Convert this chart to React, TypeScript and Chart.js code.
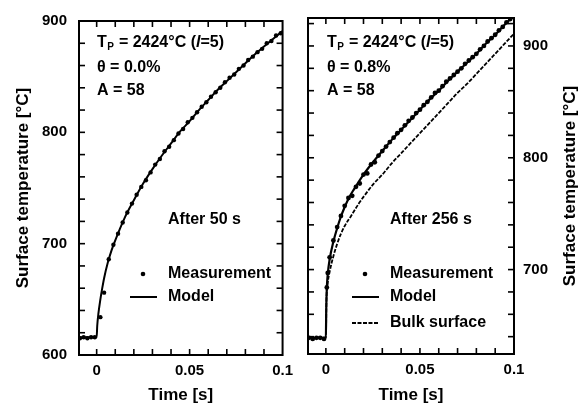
import React, { useEffect, useRef } from "react";
import { Chart, registerables } from "chart.js";

Chart.register(...registerables);

const FONT = '"Liberation Sans", Arial, Helvetica, sans-serif';

// ---- Left panel: after 50 s (theta = 0.0 %) ----
const leftModelTime = [-0.01, 0, 0.0003, 0.001, 0.002, 0.003, 0.004, 0.006, 0.008, 0.01, 0.015, 0.02, 0.025, 0.03, 0.035, 0.04, 0.045, 0.05, 0.055, 0.06, 0.065, 0.07, 0.075, 0.08, 0.085, 0.09, 0.095, 0.1];
const leftModelTemp = [616, 616, 626, 638, 650, 660, 669, 683, 694, 703, 723, 739, 754, 767, 779, 790, 801, 810, 820, 829, 838, 846, 854, 862, 870, 877, 884, 891];

const leftMeasTime = [-0.009, -0.007, -0.005, -0.003, -0.001, 0.002, 0.004, 0.0065, 0.009, 0.0115, 0.014, 0.0165, 0.019, 0.0215, 0.024, 0.0265, 0.029, 0.0315, 0.034, 0.0365, 0.039, 0.0415, 0.044, 0.0465, 0.049, 0.0515, 0.054, 0.0565, 0.059, 0.0615, 0.064, 0.0665, 0.069, 0.0715, 0.074, 0.0765, 0.079, 0.0815, 0.084, 0.0865, 0.089, 0.0915, 0.094, 0.0965, 0.099];
const leftMeasTemp = [615, 616, 615, 616, 616, 634, 656, 686, 699, 709, 719, 728, 736, 744, 751, 757, 764, 771, 776, 783, 787, 793, 799, 803, 809, 813, 818, 823, 827, 832, 836, 840, 845, 849, 852, 857, 860, 865, 868, 872, 875, 880, 882, 887, 889];

// ---- Right panel: after 256 s (theta = 0.8 %) ----
const rightModelTime = [-0.01, 0, 0.0002, 0.0005, 0.001, 0.002, 0.004, 0.006, 0.0075, 0.01, 0.0125, 0.015, 0.02, 0.025, 0.03, 0.035, 0.04, 0.045, 0.05, 0.055, 0.06, 0.065, 0.07, 0.075, 0.08, 0.085, 0.09, 0.095, 0.1];
const rightModelTemp = [639, 639, 665, 683, 696, 709, 725, 737, 745, 756, 765, 772, 785, 796, 806, 816, 825, 834, 843, 852, 860, 869, 877, 885, 893, 902, 910, 919, 927];

const rightBulkTime = [-0.01, 0, 0.0003, 0.001, 0.002, 0.004, 0.006, 0.008, 0.01, 0.0134, 0.0175, 0.02, 0.025, 0.03, 0.035, 0.04, 0.045, 0.05, 0.055, 0.06, 0.065, 0.07, 0.075, 0.08, 0.085, 0.09, 0.095, 0.1];
const rightBulkTemp = [639, 639, 672, 688, 698, 712, 723, 732, 739, 748, 759, 765, 776, 785, 795, 804, 813, 822, 831, 840, 849, 858, 866, 875, 884, 893, 902, 911];

const rightMeasTime = [-0.009, -0.007, -0.005, -0.003, -0.001, 0.0005, 0.001, 0.002, 0.004, 0.006, 0.008, 0.01, 0.012, 0.014, 0.016, 0.018, 0.02, 0.022, 0.024, 0.026, 0.028, 0.03, 0.032, 0.034, 0.036, 0.038, 0.04, 0.042, 0.044, 0.046, 0.048, 0.05, 0.052, 0.054, 0.056, 0.058, 0.06, 0.062, 0.064, 0.066, 0.068, 0.07, 0.072, 0.074, 0.076, 0.078, 0.08, 0.082, 0.084, 0.086, 0.088, 0.09, 0.092, 0.094, 0.096, 0.098, 0.1];
const rightMeasTemp = [639, 638, 639, 639, 638, 684, 697, 711, 726, 738, 748, 757, 764, 766, 774, 777, 785, 786, 794, 796, 802, 806, 810, 814, 818, 822, 825, 829, 833, 836, 840, 843, 847, 850, 854, 858, 860, 864, 868, 871, 874, 877, 880, 884, 887, 890, 893, 897, 900, 904, 907, 910, 914, 917, 921, 924, 927];

// ---- Axes ----
const timeRange = [-0.0095, 0.1];
const leftTempRange = [600, 900];
const rightTempRange = [624.5, 925];
const timeTickValues = [0, 0.05, 0.1];
const timeTickLabels = ["0", "0.05", "0.1"];
const leftTempTicks = [600, 700, 800, 900];
const rightTempTicks = [700, 800, 900];
const timeMinorTicks = [0, 0.01, 0.02, 0.03, 0.04, 0.05, 0.06, 0.07, 0.08, 0.09, 0.1];
const leftTempMinor = [620, 640, 660, 680, 700, 720, 740, 760, 780, 800, 820, 840, 860, 880];
const rightTempMinor = [640, 660, 680, 700, 720, 740, 760, 780, 800, 820, 840, 860, 880, 900, 920];

const TEMP_TITLE = "Surface temperature [°C]";

const pts = (xs: number[], ys: number[]) => xs.map((x, i) => ({ x, y: ys[i] }));

type PanelSpec = {
  side: "left" | "right";
  tempRange: number[];
  tempTicks: number[];
  tempMinor: number[];
  theta: string;
  after: string;
  datasets: any[];
  legend: { kind: "dot" | "solid" | "dash"; label: string }[];
  textX: number;
  afterX: number;
  legendX: number;
};

const drawInfoText = (ctx: CanvasRenderingContext2D, x: number, theta: string) => {
  const big = `bold 16px ${FONT}`;
  ctx.fillStyle = "#000";
  ctx.textBaseline = "middle";
  ctx.textAlign = "left";
  let cx = x;
  const y = 43;
  ctx.font = big;
  ctx.fillText("T", cx, y);
  cx += ctx.measureText("T").width;
  ctx.font = `bold 10px ${FONT}`;
  ctx.fillText("P", cx + 0.5, y + 4);
  cx += ctx.measureText("P").width + 1;
  ctx.font = big;
  const mid = " = 2424°C (";
  ctx.fillText(mid, cx, y);
  cx += ctx.measureText(mid).width;
  ctx.font = `italic bold 16px ${FONT}`;
  ctx.fillText("l", cx, y);
  cx += ctx.measureText("l").width;
  ctx.font = big;
  ctx.fillText("=5)", cx, y);
  ctx.fillText(`θ = ${theta}`, x, 68);
  ctx.fillText("A = 58", x, 91);
};

function Panel({ spec, width, left }: { spec: PanelSpec; width: number; left: number }) {
  const ref = useRef<HTMLCanvasElement | null>(null);
  useEffect(() => {
    if (!ref.current) return;
    const isLeft = spec.side === "left";

    const frame = {
      id: "frameTicks",
      afterDatasetsDraw(chart: any) {
        const { ctx, chartArea: a, scales } = chart;
        ctx.save();
        ctx.strokeStyle = "#000";
        ctx.lineCap = "butt";
        ctx.lineWidth = 1.6;
        const L = 6;
        const seg = (x1: number, y1: number, x2: number, y2: number) => {
          ctx.beginPath();
          ctx.moveTo(x1, y1);
          ctx.lineTo(x2, y2);
          ctx.stroke();
        };
        timeMinorTicks.forEach((v) => {
          const x = scales.x.getPixelForValue(v);
          if (x < a.left + 2 || x > a.right - 2) return;
          seg(x, a.bottom, x, a.bottom - L);
          seg(x, a.top, x, a.top + L);
        });
        spec.tempMinor.forEach((v) => {
          const y = scales.y.getPixelForValue(v);
          if (y < a.top + 2 || y > a.bottom - 2) return;
          seg(a.left, y, a.left + L, y);
          seg(a.right, y, a.right - L, y);
        });
        ctx.lineWidth = 2;
        ctx.strokeRect(a.left, a.top, a.right - a.left, a.bottom - a.top);
        ctx.restore();
      },
    };

    const notes = {
      id: "notes",
      afterDraw(chart: any) {
        const ctx: CanvasRenderingContext2D = chart.ctx;
        const a = chart.chartArea;
        ctx.save();
        drawInfoText(ctx, spec.textX, spec.theta);
        ctx.font = `bold 16px ${FONT}`;
        ctx.fillText(spec.after, spec.afterX, 220);
        // legend
        const rows = [274, 297, 323];
        spec.legend.forEach((item, i) => {
          const y = rows[i];
          ctx.strokeStyle = "#000";
          ctx.fillStyle = "#000";
          if (item.kind === "dot") {
            ctx.beginPath();
            ctx.arc(spec.legendX - 25, y, 2.3, 0, Math.PI * 2);
            ctx.fill();
          } else {
            ctx.lineWidth = item.kind === "solid" ? 2 : 1.8;
            ctx.setLineDash(item.kind === "dash" ? [4, 1.5] : []);
            ctx.beginPath();
            ctx.moveTo(spec.legendX - 38, y);
            ctx.lineTo(spec.legendX - 11, y);
            ctx.stroke();
            ctx.setLineDash([]);
          }
          ctx.font = `bold 16px ${FONT}`;
          ctx.textBaseline = "middle";
          ctx.fillText(item.label, spec.legendX, y);
        });
        // right-hand axis title reads bottom-to-top, like the left one
        if (!isLeft) {
          ctx.save();
          ctx.translate(chart.width - 17, (a.top + a.bottom) / 2);
          ctx.rotate(-Math.PI / 2);
          ctx.font = `bold 17px ${FONT}`;
          ctx.textAlign = "center";
          ctx.textBaseline = "middle";
          ctx.fillText(TEMP_TITLE, 0, 0);
          ctx.restore();
        }
        ctx.restore();
      },
    };

    const chart = new Chart(ref.current, {
      type: "scatter",
      data: { datasets: spec.datasets },
      plugins: [frame, notes],
      options: {
        animation: false,
        responsive: false,
        devicePixelRatio: 1,
        layout: {
          padding: isLeft
            ? { top: 15, right: 13, left: 0, bottom: 0 }
            : { top: 15, right: 0, left: 8, bottom: 0 },
        },
        plugins: { legend: { display: false }, tooltip: { enabled: false } },
        scales: {
          x: {
            type: "linear",
            min: timeRange[0],
            max: timeRange[1],
            grid: { display: false, drawTicks: false },
            border: { display: false },
            afterBuildTicks: (s: any) => {
              s.ticks = timeTickValues.map((value) => ({ value }));
            },
            afterFit: (s: any) => {
              s.height = isLeft ? 53 : 54;
            },
            ticks: {
              padding: 7,
              color: "#000",
              maxRotation: 0,
              font: { family: FONT, size: 15, weight: "bold" },
              callback: (v: any) => timeTickLabels[timeTickValues.indexOf(Number(v))] ?? "",
            },
            title: {
              display: true,
              text: "Time [s]",
              color: "#000",
              font: { family: FONT, size: 17, weight: "bold" },
              padding: { top: 0, bottom: 2 },
            },
          },
          y: {
            type: "linear",
            position: isLeft ? "left" : "right",
            min: spec.tempRange[0],
            max: spec.tempRange[1],
            grid: { display: false, drawTicks: false },
            border: { display: false },
            afterBuildTicks: (s: any) => {
              s.ticks = spec.tempTicks.map((value) => ({ value }));
            },
            afterFit: (s: any) => {
              s.width = isLeft ? 79 : 73;
            },
            ticks: {
              padding: isLeft ? 12 : 9,
              color: "#000",
              font: { family: FONT, size: 15, weight: "bold" },
              callback: (v: any) => String(v),
            },
            title: {
              display: isLeft,
              text: TEMP_TITLE,
              color: "#000",
              font: { family: FONT, size: 17, weight: "bold" },
              padding: { top: 13, bottom: 0 },
            },
          },
        },
      },
    } as any);
    return () => chart.destroy();
  }, [spec]);

  return (
    <canvas
      ref={ref}
      width={width}
      height={408}
      style={{ position: "absolute", left, top: 0, width, height: 408 }}
    />
  );
}

const leftSpec: PanelSpec = {
  side: "left",
  tempRange: leftTempRange,
  tempTicks: leftTempTicks,
  tempMinor: leftTempMinor,
  theta: "0.0%",
  after: "After 50 s",
  textX: 97,
  afterX: 168,
  legendX: 168,
  legend: [
    { kind: "dot", label: "Measurement" },
    { kind: "solid", label: "Model" },
  ],
  datasets: [
    {
      label: "Model",
      data: pts(leftModelTime, leftModelTemp),
      showLine: true,
      borderColor: "#000",
      borderWidth: 2,
      pointRadius: 0,
      cubicInterpolationMode: "monotone",
    },
    {
      label: "Measurement",
      data: pts(leftMeasTime, leftMeasTemp),
      showLine: false,
      backgroundColor: "#000",
      borderColor: "#000",
      pointRadius: 2.2,
      pointBorderWidth: 0,
    },
  ],
};

const rightSpec: PanelSpec = {
  side: "right",
  tempRange: rightTempRange,
  tempTicks: rightTempTicks,
  tempMinor: rightTempMinor,
  theta: "0.8%",
  after: "After 256 s",
  textX: 27,
  afterX: 90,
  legendX: 90,
  legend: [
    { kind: "dot", label: "Measurement" },
    { kind: "solid", label: "Model" },
    { kind: "dash", label: "Bulk surface" },
  ],
  datasets: [
    {
      label: "Bulk surface",
      data: pts(rightBulkTime, rightBulkTemp),
      showLine: true,
      borderColor: "#000",
      borderWidth: 1.8,
      borderDash: [4, 1.5],
      pointRadius: 0,
      cubicInterpolationMode: "monotone",
    },
    {
      label: "Model",
      data: pts(rightModelTime, rightModelTemp),
      showLine: true,
      borderColor: "#000",
      borderWidth: 2.2,
      pointRadius: 0,
      cubicInterpolationMode: "monotone",
    },
    {
      label: "Measurement",
      data: pts(rightMeasTime, rightMeasTemp),
      showLine: false,
      backgroundColor: "#000",
      borderColor: "#000",
      pointRadius: 2.4,
      pointBorderWidth: 0,
    },
  ],
};

export default function App() {
  return (
    <div
      style={{
        position: "absolute",
        left: 0,
        top: 0,
        width: 587,
        height: 408,
        background: "#fff",
        overflow: "hidden",
      }}
    >
      <Panel spec={leftSpec} width={300} left={0} />
      <Panel spec={rightSpec} width={287} left={300} />
    </div>
  );
}
